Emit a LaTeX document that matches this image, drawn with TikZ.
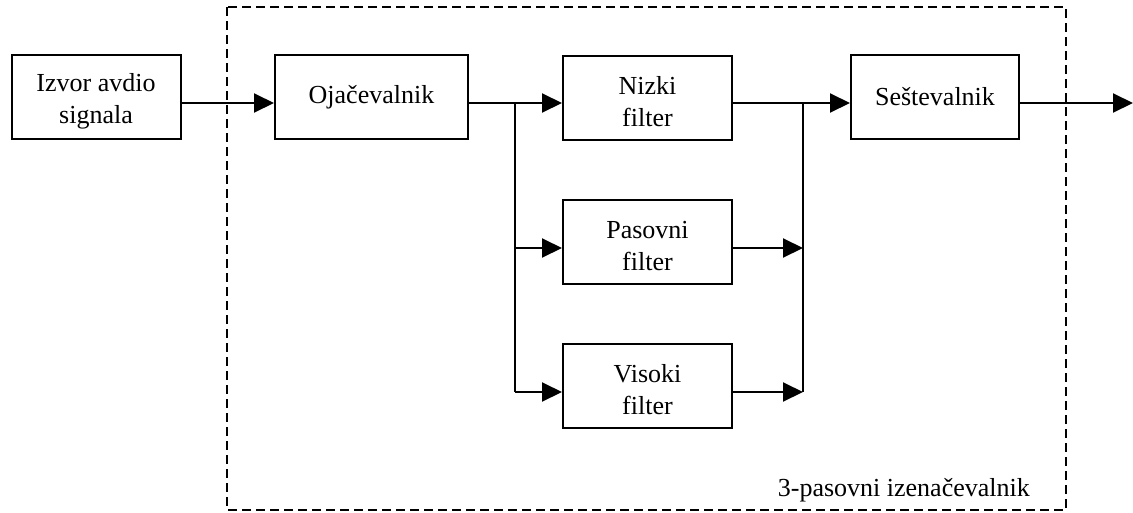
\documentclass[tikz,border=0pt]{standalone}
\usepackage{fontspec}
\setmainfont{Liberation Serif}
\usetikzlibrary{arrows.meta}
\newcommand\topstrut{\rule{0pt}{26.5pt}}
\begin{document}
\begin{tikzpicture}[x=1pt,y=-1pt,
  blk/.style={draw,line width=2pt,minimum height=84pt,inner sep=0pt,align=center,
    font=\fontsize{26}{32}\selectfont},
  line/.style={line width=2pt},
  arr/.style={line width=2pt,-{Triangle[length=20pt,width=19pt]}},
  frame/.style={line width=2pt,dash pattern=on 9pt off 5pt}]
\useasboundingbox (0,0) rectangle (1133,512);
\draw[frame] (227,7) rectangle (1066,510);
\node[blk,minimum width=169pt] (izvor) at (96,97) {\topstrut Izvor avdio\\signala};
\node[blk,minimum width=193pt] (oja) at (371.5,97) {Oja\v{c}evalnik};
\node[blk,minimum width=169pt] (nizki) at (647.5,97.5) {\topstrut Nizki\\filter};
\node[blk,minimum width=169pt] (pasovni) at (647.5,241.5) {\topstrut Pasovni\\filter};
\node[blk,minimum width=169pt] (visoki) at (647.5,385.5) {\topstrut Visoki\\filter};
\node[blk,minimum width=168pt] (sestev) at (935,97) {Se\v{s}tevalnik};
\node[anchor=base east,inner sep=0pt,font=\fontsize{26}{32}\selectfont] (lbl) at (1030,496) {3-pasovni izena\v{c}evalnik};
\coordinate (s1) at (515,103);
\coordinate (s2) at (515,248);
\coordinate (s3) at (515,392);
\coordinate (j1) at (803,103);
\coordinate (j2) at (803,248);
\coordinate (j3) at (803,392);
\coordinate (out) at (1133,103);
\draw[arr] ([yshift=-6pt]izvor.east) -- ([yshift=-6pt]oja.west);
\draw[arr] ([yshift=-6pt]oja.east) -- ([yshift=-5.5pt]nizki.west);
\draw[line] (s1) -- (s3);
\draw[arr] (s2) -- ([yshift=-6.5pt]pasovni.west);
\draw[arr] (s3) -- ([yshift=-6.5pt]visoki.west);
\draw[arr] ([yshift=-5.5pt]nizki.east) -- ([yshift=-6pt]sestev.west);
\draw[arr] ([yshift=-6.5pt]pasovni.east) -- (j2);
\draw[arr] ([yshift=-6.5pt]visoki.east) -- (j3);
\draw[line] (j1) -- (j3);
\draw[arr] ([yshift=-6pt]sestev.east) -- (out);
\end{tikzpicture}
\end{document}
